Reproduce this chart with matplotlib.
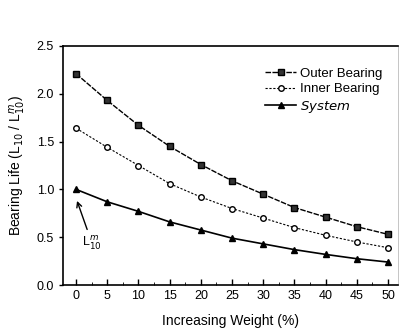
import numpy as np
import matplotlib; matplotlib.use('Agg')
import matplotlib.pyplot as plt

plt.rcParams.update({'font.family': 'Liberation Sans', 'font.size': 9})

weight = [0, 5, 10, 15, 20, 25, 30, 35, 40, 45, 50]
outer = [2.21, 1.93, 1.67, 1.45, 1.26, 1.09, 0.95, 0.81, 0.71, 0.61, 0.53]
inner = [1.64, 1.44, 1.25, 1.06, 0.92, 0.80, 0.70, 0.60, 0.52, 0.45, 0.39]
system = [1.00, 0.87, 0.77, 0.66, 0.575, 0.49, 0.43, 0.37, 0.32, 0.275, 0.24]

fig = plt.figure(figsize=(3.99, 3.31), dpi=100)
ax = fig.add_axes([63/399, 1-285/331, (398-63)/399, (285-46)/331])

ax.plot(weight, outer, color='black', lw=1.0, ls=(0, (4, 1)), marker='s', ms=4,
        mfc='#333333', mec='black', label='Outer Bearing')
ax.plot(weight, inner, color='black', lw=0.8, ls=(0, (2, 1.5)), marker='o', ms=4,
        mfc='white', mec='black', label='Inner Bearing')
ax.plot(weight, system, color='black', lw=1.2, ls='-', marker='^', ms=4,
        mfc='black', mec='black', label=r'$\it{System}$')

ax.set_xlim(-2.1, 51.6)
ax.set_ylim(0, 2.5)
ax.set_xticks(weight)
ax.set_xticks(np.arange(0, 51, 2.5), minor=True)
ax.set_yticks([0, 0.5, 1.0, 1.5, 2.0, 2.5])
ax.set_yticklabels(['0.0', '0.5', '1.0', '1.5', '2.0', '2.5'])
ax.tick_params(axis='x', direction='in', length=4, width=1)
ax.tick_params(axis='x', which='minor', direction='in', length=2)
ax.tick_params(axis='y', direction='out', length=3, width=1)
ax.tick_params(labelsize=9)
ax.spines['right'].set_linewidth(0.4)
ax.spines['right'].set_color('#999999')
for s in ['left', 'bottom', 'top']:
    ax.spines[s].set_linewidth(1.2)

ax.set_xlabel('Increasing Weight (%)', fontsize=10, labelpad=9)
ax.set_ylabel(r'Bearing Life (L$_{10}$ / L$^{m}_{10}$)', fontsize=10, labelpad=6)

ax.annotate(r'L$^{m}_{10}$', xy=(0.15, 0.88), xytext=(1.0, 0.40), fontsize=9,
            arrowprops=dict(arrowstyle='->', color='black', lw=1, shrinkB=0))

ax.legend(loc='upper right', bbox_to_anchor=(0.99, 0.96), frameon=False, fontsize=9.5,
          handlelength=2.4, handletextpad=0.3, labelspacing=0.25)

fig.savefig('out.png', dpi=100, facecolor='white')
